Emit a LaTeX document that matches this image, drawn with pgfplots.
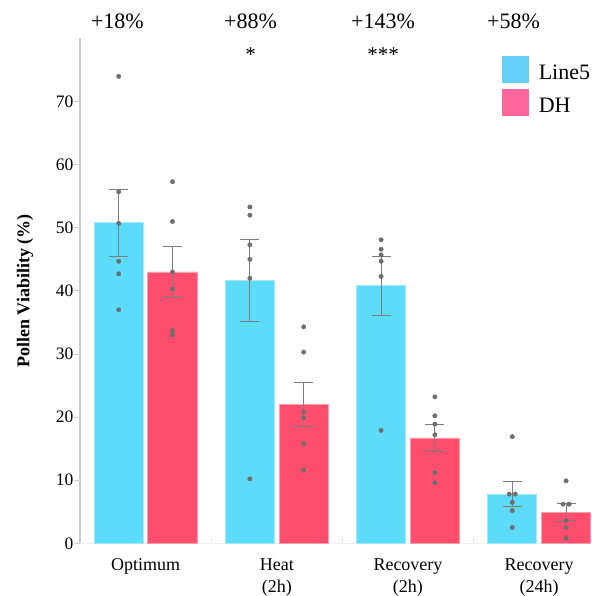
\documentclass[border=0pt]{standalone}
\usepackage{fontspec}
\setmainfont{Liberation Serif}
\usepackage{pgfplots}
\usepackage{pgfplotstable}
\pgfplotsset{compat=1.18}

\definecolor{lineblue}{HTML}{5CDBFA}
\definecolor{dhred}{HTML}{FF4D6E}
\definecolor{legblue}{HTML}{66CFF7}
\definecolor{legred}{HTML}{FF6699}
\definecolor{dotgray}{HTML}{6E6E6E}
\definecolor{errgray}{HTML}{7D7D7D}

% group means and standard errors
\pgfplotstableread{
g mean se
0 50.8 5.3
1 41.6 6.5
2 40.8 4.65
3 7.8 1.95
}\lineMeans
\pgfplotstableread{
g mean se
0 43.0 4.0
1 22.0 3.5
2 16.7 2.2
3 4.9 1.35
}\dhMeans

% individual replicates (dx = small horizontal jitter)
\pgfplotstableread{
g dx v
0 0 74.0
0 0 55.7
0 0 50.7
0 0 44.7
0 0 42.7
0 0 37.0
1 0 53.3
1 0 52.0
1 0 47.3
1 0 45.0
1 0 42.0
1 0 10.2
2 0 48.1
2 0 46.6
2 0 45.7
2 0 44.7
2 0 42.3
2 0 17.9
3 0 16.9
3 -0.023 7.8
3 0.023 7.8
3 0 6.5
3 0 5.2
3 0 2.5
}\lineDots
\pgfplotstableread{
g dx v
0 0 57.3
0 0 51.0
0 0 43.0
0 0 40.3
0 0 33.7
0 0 33.0
1 0 34.3
1 0 30.3
1 0 20.8
1 0 19.9
1 0 15.8
1 0 11.6
2 0 23.2
2 0 20.2
2 0 18.9
2 0 17.2
2 0 11.2
2 0 9.6
3 0 9.9
3 -0.023 6.2
3 0.023 6.2
3 0 3.6
3 0 2.5
3 0 0.8
}\dhDots

\begin{document}
\begin{tikzpicture}
\begin{axis}[
  name=ax,
  scale only axis,
  width=511pt, height=504.8pt,
  xmin=-0.5, xmax=3.395,
  ymin=0, ymax=80,
  clip=false,
  axis lines*=left,
  every outer y axis line/.append style={draw=gray!40, line width=1.3pt},
  every outer x axis line/.append style={draw=gray!12, line width=0.8pt},
  tick align=outside,
  ytick={0,10,...,70},
  y tick style={draw=gray!40, line width=0.8pt},
  major tick length=6pt,
  yticklabel style={font=\fontsize{17.5}{20}\selectfont, inner xsep=0.5pt},
  /pgf/number format/assume math mode=true,
  xtick={0,1,2,3},
  x tick style={draw=none},
  xticklabels={Optimum, {Heat\\(2h)}, {Recovery\\(2h)}, {Recovery\\(24h)}},
  xticklabel style={font=\fontsize{18}{22.5}\selectfont, align=center, anchor=north, inner sep=0pt, yshift=-9pt},
  extra x ticks={0.5,1.5,2.5},
  extra x tick labels={},
  extra x tick style={tick align=inside, x tick style={draw=gray!15, line width=0.8pt}},
  ylabel={Pollen Viability (\%)},
  ylabel style={font=\bfseries\fontsize{18}{22}\selectfont, at={(axis description cs:0,0.5)}, anchor=center, yshift=55pt},
  legend style={at={(axis cs:2.714,77.2)}, anchor=north west, draw=none, fill=none,
    inner sep=0pt, row sep=6.6pt, column sep=10.5pt,
    font=\fontsize{22}{26}\selectfont, nodes={inner sep=0pt}},
  legend cell align=left,
  error bars/error bar style={errgray, line width=1pt},
  error bars/error mark options={errgray, rotate=90, mark size=9.5pt, line width=1pt},
]

% bars with standard-error whiskers (Line5 left of each group, DH right)
\addplot[forget plot, ybar, bar width=0.375, bar shift=0pt, fill=lineblue, draw=lineblue!55!white, line width=0.8pt,
  error bars/.cd, y dir=both, y explicit]
  table[x expr=\thisrow{g}-0.205, y=mean, y error=se]{\lineMeans};
\addplot[forget plot, ybar, bar width=0.375, bar shift=0pt, fill=dhred, draw=dhred!55!white, line width=0.8pt,
  error bars/.cd, y dir=both, y explicit]
  table[x expr=\thisrow{g}+0.205, y=mean, y error=se]{\dhMeans};

% replicate points
\addplot[only marks, mark=*, mark size=2.2pt, dotgray, forget plot]
  table[x expr=\thisrow{g}-0.205+\thisrow{dx}, y=v]{\lineDots};
\addplot[only marks, mark=*, mark size=2.2pt, dotgray, forget plot]
  table[x expr=\thisrow{g}+0.205+\thisrow{dx}, y=v]{\dhDots};

\addlegendimage{legend image code/.code={\fill[legblue] (0pt,-9.1pt) rectangle (26pt,16.6pt);}}
\addlegendentry{Line5}
\addlegendimage{legend image code/.code={\fill[legred] (0pt,-9.1pt) rectangle (26pt,16.6pt);}}
\addlegendentry{DH}

% relative change and significance above each group
\node[font=\fontsize{22}{26}\selectfont, anchor=base] at (axis cs:-0.215,81.6) {+18\%};
\node[font=\fontsize{22}{26}\selectfont, anchor=base] at (axis cs:0.80,81.6) {+88\%};
\node[font=\fontsize{22}{26}\selectfont, anchor=base] at (axis cs:1.81,81.6) {+143\%};
\node[font=\fontsize{22}{26}\selectfont, anchor=base] at (axis cs:2.805,81.6) {+58\%};
\node[font=\fontsize{21}{25}\selectfont, anchor=base] at (axis cs:0.80,76.4) {*};
\node[font=\fontsize{21}{25}\selectfont, anchor=base] at (axis cs:1.81,76.4) {***};
\end{axis}
\pgfresetboundingbox
\path ([xshift=-80pt,yshift=-52.7pt]ax.south west) rectangle ([yshift=38.5pt]ax.north east);
\end{tikzpicture}
\end{document}
